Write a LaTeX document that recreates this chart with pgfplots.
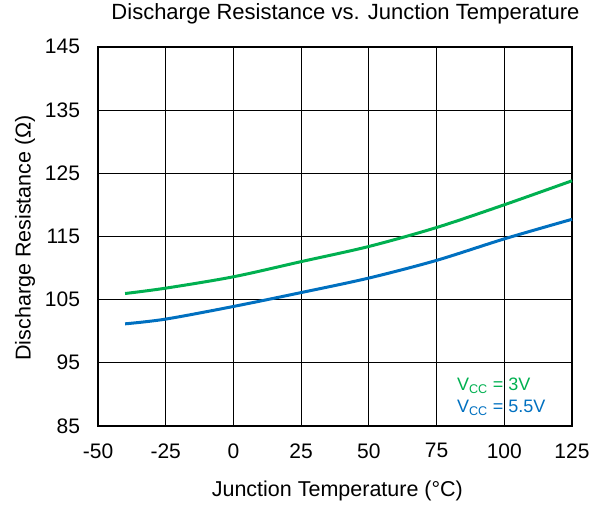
\documentclass[border=0pt]{standalone}
\usepackage{pgfplots}
\pgfplotsset{compat=1.18}
\usepackage{fontspec}
\setmainfont{Liberation Sans}
\definecolor{cgreen}{RGB}{0,176,80}
\definecolor{cblue}{RGB}{0,112,192}
\begin{document}
\begin{tikzpicture}
\begin{axis}[
  scale only axis,
  width=474pt, height=379pt,
  xmin=-50, xmax=125, ymin=85, ymax=145,
  xtick={-50,-25,0,25,50,75,100,125},
  ytick={85,95,105,115,125,135,145},
  grid=major,
  major grid style={black, line width=0.8pt},
  axis line style={black, line width=2.4pt},
  tick style={draw=none},
  tick label style={font=\fontsize{21}{24}\selectfont},
  /pgf/number format/assume math mode=true,
  xticklabel style={anchor=center, yshift=-25pt},
  yticklabel style={anchor=east, xshift=-14.5pt},
  title={Discharge Resistance vs. Junction Temperature},
  title style={font=\fontsize{22}{25}\selectfont, at={(axis description cs:0.522,1.072)}, anchor=center},
  xlabel={Junction Temperature (°C)},
  xlabel style={font=\fontsize{21.5}{24}\selectfont, at={(axis description cs:0.505,-0.171)}, anchor=center},
  ylabel={Discharge Resistance (Ω)},
  ylabel style={font=\fontsize{21.5}{24}\selectfont, at={(axis description cs:-0.154,0.496)}, anchor=center, rotate=0},
  clip=false,
]
\path (axis description cs:-0.2068,-0.2058) rectangle (axis description cs:1.0612,1.1214);
\addplot[cgreen, line width=3pt, smooth] coordinates {
(-40,105.95) (-25,106.8) (0,108.6) (25,111.0) (50,113.4) (75,116.4) (100,120.0) (125,123.8)
};
\addplot[cblue, line width=3pt, smooth] coordinates {
(-40,101.15) (-25,101.9) (0,103.9) (25,106.1) (50,108.4) (75,111.2) (100,114.6) (125,117.7)
};
\node[anchor=west, text=cgreen, font=\fontsize{18}{20}\selectfont, inner sep=0pt] at (axis cs:82.5,91.4) {V\textsubscript{CC} = 3V};
\node[anchor=west, text=cblue, font=\fontsize{18}{20}\selectfont, inner sep=0pt] at (axis cs:82.5,87.9) {V\textsubscript{CC} = 5.5V};
\end{axis}
\end{tikzpicture}
\end{document}
